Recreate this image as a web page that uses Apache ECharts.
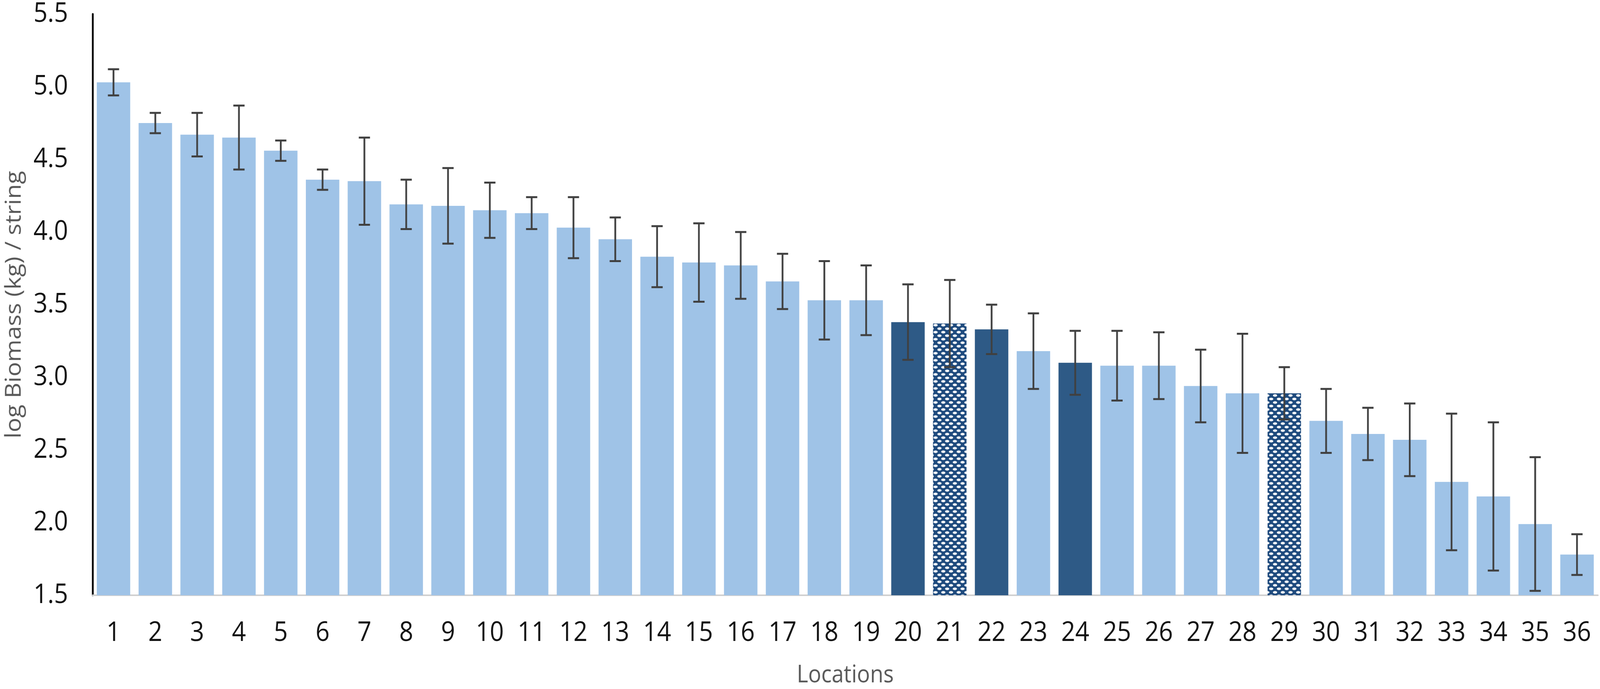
<!DOCTYPE html>
<html>
<head>
<meta charset="utf-8">
<script src="https://cdn.jsdelivr.net/npm/echarts@6/dist/echarts.min.js"></script>
<style>
  html, body { margin: 0; padding: 0; background: #fff; overflow: hidden; }
  #chart { width: 4562px; height: 1764px; transform-origin: 0 0; }
</style>
</head>
<body>
<div id="chart"></div>
<script>
// locations 1..36, sorted by mean log biomass
let locations = [];
for (let i = 1; i <= 36; i++) {
    locations.push(String(i));
}
let biomass = [5.03, 4.75, 4.67, 4.65, 4.56, 4.36, 4.35, 4.19, 4.18, 4.15,
    4.13, 4.03, 3.95, 3.83, 3.79, 3.77, 3.66, 3.53, 3.53, 3.38,
    3.37, 3.33, 3.18, 3.10, 3.08, 3.08, 2.94, 2.89, 2.89, 2.70,
    2.61, 2.57, 2.28, 2.18, 1.99, 1.78];
let errors = [0.09, 0.07, 0.15, 0.22, 0.07, 0.07, 0.30, 0.17, 0.26, 0.19,
    0.11, 0.21, 0.15, 0.21, 0.27, 0.23, 0.19, 0.27, 0.24, 0.26,
    0.30, 0.17, 0.26, 0.22, 0.24, 0.23, 0.25, 0.41, 0.18, 0.22,
    0.18, 0.25, 0.47, 0.51, 0.46, 0.14];
// highlighted locations
let darkLocations = ['20', '22', '24'];
let patternLocations = ['21', '29'];
let yTicks = [1.5, 5.5, 0.5]; // min, max, step

function makePattern() {
    let c = document.createElement('canvas');
    c.width = 22;
    c.height = 18;
    let ctx = c.getContext('2d');
    ctx.fillStyle = '#1f4b7e';
    ctx.fillRect(0, 0, 22, 18);
    ctx.fillStyle = '#ffffff';
    // two staggered rows of white dots
    let dots = [[5.5, 4.5], [16.5, 13.5], [-5.5, 13.5], [27.5, 4.5]];
    for (let i = 0; i < dots.length; i++) {
        ctx.beginPath();
        ctx.ellipse(dots[i][0], dots[i][1], 6, 3.2, 0, 0, Math.PI * 2);
        ctx.fill();
    }
    return c;
}

function setChart() {
    let el = document.getElementById('chart');
    // fit the 4562x1764 drawing into whatever the window really is
    let sx = window.innerWidth / 4562;
    let sy = window.innerHeight / 1764;
    el.style.transform = 'scale(' + sx + ',' + sy + ')';

    let myChart = echarts.init(el, null, { width: 4562, height: 1764 });
    let pattern = makePattern();

    let barData = [];
    for (let i = 0; i < biomass.length; i++) {
        let color = '#9fc3e7';
        if (darkLocations.indexOf(locations[i]) >= 0) {
            color = '#2e5a86';
        } else if (patternLocations.indexOf(locations[i]) >= 0) {
            color = { image: pattern, repeat: 'repeat' };
        }
        barData.push({ value: biomass[i], itemStyle: { color: color } });
    }

    let errData = [];
    for (let i = 0; i < biomass.length; i++) {
        errData.push([i, biomass[i] - errors[i], biomass[i] + errors[i]]);
    }

    let option = {
        animation: false,
        backgroundColor: '#ffffff',
        grid: { left: 264, right: 6, top: 36, bottom: 240, outerBoundsMode: 'none' },
        xAxis: {
            type: 'category',
            data: locations,
            name: 'Locations',
            nameLocation: 'middle',
            nameGap: 174,
            nameTextStyle: { fontFamily: 'Open Sans', fontSize: 62, color: '#595959' },
            axisLine: { show: true, lineStyle: { color: '#d0d0d0', width: 4 } },
            axisTick: { show: false },
            axisLabel: { fontFamily: 'Open Sans', fontSize: 70, color: '#111111', margin: 62 }
        },
        yAxis: {
            type: 'value',
            min: yTicks[0],
            max: yTicks[1],
            interval: yTicks[2],
            name: 'log Biomass (kg) / string',
            nameLocation: 'middle',
            nameGap: 192,
            nameTextStyle: { fontFamily: 'Open Sans', fontSize: 62, color: '#595959' },
            axisLine: { show: true, lineStyle: { color: '#000000', width: 5 } },
            axisTick: { show: false },
            splitLine: { show: false },
            axisLabel: {
                fontFamily: 'Open Sans', fontSize: 70, color: '#111111', margin: 70,
                formatter: function (v) { return v.toFixed(1); }
            }
        },
        series: [{
            name: 'biomass',
            type: 'bar',
            data: barData,
            barCategoryGap: '20%'
        }, {
            name: 'error',
            type: 'custom',
            data: errData,
            z: 5,
            renderItem: function (params, api) {
                let low = api.coord([api.value(0), api.value(1)]);
                let high = api.coord([api.value(0), api.value(2)]);
                let half = 16;
                let style = { stroke: '#404040', lineWidth: 5 };
                return {
                    type: 'group',
                    children: [
                        { type: 'line', shape: { x1: high[0], y1: high[1], x2: low[0], y2: low[1] }, style: style },
                        { type: 'line', shape: { x1: high[0] - half, y1: high[1], x2: high[0] + half, y2: high[1] }, style: style },
                        { type: 'line', shape: { x1: low[0] - half, y1: low[1], x2: low[0] + half, y2: low[1] }, style: style }
                    ]
                };
            }
        }]
    };

    myChart.setOption(option);
}

window.onload = function () {
    setChart();
};
</script>
</body>
</html>
